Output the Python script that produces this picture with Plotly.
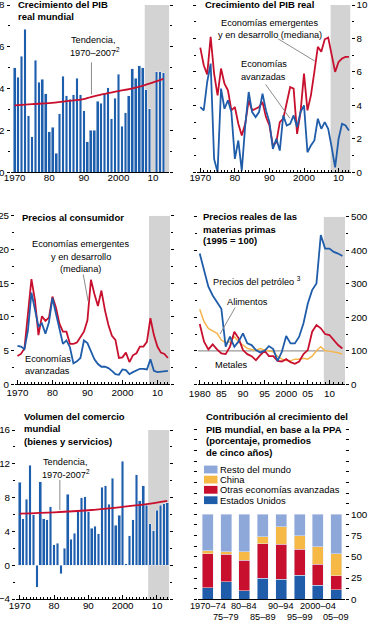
import plotly.graph_objects as go

W, H = 368, 620
FONT = "Liberation Sans, Arial, Helvetica, sans-serif"

# ---------------- data ----------------
YEARS = list(range(1970, 2014))
WORLD_GDP = [5.0, 4.55, 5.55, 6.85, 2.7, 1.7, 5.35, 4.3, 4.45, 3.75,
             1.95, 2.15, 0.9, 2.8, 4.6, 3.65, 3.5, 3.7, 4.5, 3.7,
             2.95, 1.45, 2.0, 2.0, 3.4, 3.3, 3.75, 4.05, 2.55, 3.55,
             4.7, 2.2, 2.85, 3.65, 4.95, 4.5, 5.1, 5.0, 3.95, 3.05,
             None, 4.8, 4.8, 4.75]
GDP_TREND_YEARS = [1970, 1975, 1980, 1985, 1990, 1992, 1995, 2000, 2005, 2010, 2013]
GDP_TREND = [3.2, 3.26, 3.31, 3.4, 3.5, 3.6, 3.72, 3.88, 4.05, 4.3, 4.47]

GDP_EMERGING = [7.45, 6.4, 5.85, 8.1, 5.9, 4.6, 6.2, 5.3, 4.9, 3.7,
                3.9, 2.9, 2.2, 2.9, 4.3, 3.7, 3.8, 3.9, 4.2, 3.3,
                2.8, 1.6, 1.8, 3.0, 3.2, 4.2, 5.1, 5.0, 2.3, 3.6,
                5.9, 3.7, 4.6, 6.0, 7.5, 7.2, 7.95, 8.05, 6.9, 6.0,
                6.6, 6.8, 6.9, 6.9]
GDP_ADVANCED = [3.9, 3.7, 5.4, 6.5, 0.8, 0.0, 5.0, 3.8, 4.3, 3.6,
                0.8, 1.9, 0.1, 2.8, 4.8, 3.6, 3.3, 3.6, 4.7, 3.7,
                3.0, 1.4, 2.0, 1.3, 3.4, 2.8, 2.9, 3.4, 2.7, 3.6,
                4.0, 1.2, 1.6, 1.9, 3.2, 2.6, 3.0, 2.6, 1.5, 0.3,
                2.0, 2.9, 2.8, 2.5]

CPI_EMERGING = [4.2, 4.5, 5.3, 10.0, 15.6, 12.5, 7.3, 10.1, 9.4, 9.9,
                13.0, 11.4, 9.0, 7.8, 7.8, 6.0, 6.0, 6.2, 7.0, 7.8,
                9.5, 15.5, 13.4, 11.6, 13.9, 11.0, 8.8, 7.2, 6.6, 3.9,
                4.0, 4.7, 3.3, 4.3, 4.6, 5.6, 5.6, 6.3, 9.8, 7.3,
                5.6, 4.7, 4.5, 3.9]
CPI_ADVANCED = [5.7, 5.6, 5.2, 8.0, 13.6, 11.2, 8.6, 9.0, 7.5, 9.2,
                12.8, 10.5, 8.3, 6.0, 6.5, 5.5, 3.1, 3.4, 3.9, 6.5,
                6.1, 5.0, 3.7, 3.0, 2.6, 2.6, 2.4, 2.0, 1.5, 1.4,
                2.2, 2.1, 1.5, 1.8, 2.0, 2.3, 2.3, 2.2, 3.7, 2.0,
                1.8, 1.9, 2.0, 2.0]

COMMOD_YEARS = list(range(1980, 2014))
OIL = [390, 340, 291, 265, 246, 225, 112, 142, 112, 128,
       152, 122, 117, 102, 95, 100, 114, 105, 70, 97,
       144, 122, 122, 142, 182, 241, 281, 301, 445, 405,
       405, 395, 390, 383]
FOOD = [224, 187, 167, 160, 152, 132, 124, 127, 142, 127,
        117, 107, 104, 102, 107, 102, 100, 97, 83, 75,
        71, 70, 75, 75, 78, 75, 84, 100, 112, 100,
        99, 97, 94, 90]
METALS = [180, 127, 104, 119, 104, 92, 90, 112, 157, 137,
          102, 90, 84, 72, 87, 100, 84, 84, 70, 68,
          75, 66, 61, 68, 90, 102, 157, 177, 167, 150,
          147, 132, 117, 107]
BASE_INDEX = 100

TRADE = [9.8, 5.5, 7.8, 11.8, 6.0, -2.6, 9.9, 5.5, 5.4, 6.9,
         2.4, 2.6, -1.0, 2.0, 8.4, 3.1, 3.8, 6.4, 8.0, 8.1,
         6.3, 4.4, 4.6, 3.7, 9.2, 9.4, 7.2, 10.3, 4.7, 5.9,
         12.3, 0.2, 3.5, 5.4, 10.7, 7.6, 9.4, 7.1, 4.9, 4.1,
         6.5, 7.1, 7.3, 7.4]
TRADE_TREND_YEARS = [1970, 1980, 1990, 2000, 2007, 2013]
TRADE_TREND = [6.1, 6.25, 6.5, 6.9, 7.22, 7.6]

PERIODS = ["1970–74", "75–79", "80–84", "85–89", "90–94", "95–99", "2000–04", "05–09"]
CONTRIB_US = [13.7, 20.4, 10.2, 24.7, 23.5, 28.2, 16.5, 11.4]
CONTRIB_OTHER_ADV = [40.0, 32.6, 35.7, 40.8, 41.2, 30.6, 24.7, 16.1]
CONTRIB_CHINA = [3.6, 3.0, 10.1, 8.2, 20.8, 16.1, 20.8, 25.8]
CONTRIB_REST = [42.7, 44.0, 44.0, 26.3, 14.5, 25.1, 38.0, 46.7]
CONTRIB_TICKS = [0, 25, 50, 75, 100]

DECADE_TICKS = [1970, 1980, 1990, 2000, 2010]
DECADE_LABELS = ["1970", "80", "90", "2000", "10"]
FIVE_TICKS = [1980, 1985, 1990, 1995, 2000, 2005, 2010]
FIVE_LABELS = ["1980", "85", "90", "95", "2000", "05", "10"]

# ---------------- styles ----------------
RED = "#C8102E"
BLUE = "#1F5DAA"
BAR_BLUE = "#1E5FAD"
FOOD_C = "#F5B54C"
GRAY_SHADE = "#D3D3D3"
LEGEND_COLORS = {"rest": "#8EA8DA", "china": "#F7B946", "other": "#C8102E", "us": "#1F5DAA"}
TICK_SIZE = 9.8
TITLE_SIZE = 9.5
NOTE_SIZE = 9.2


def fx(p):
    return p / W


def fy(p):
    return 1 - p / H


fig = go.Figure()

# Panel 1: world GDP growth bars + trend
fig.add_trace(go.Bar(x=YEARS, y=WORLD_GDP, marker_color=BAR_BLUE, width=0.78,
                     xaxis="x", yaxis="y"))
fig.add_trace(go.Scatter(x=GDP_TREND_YEARS, y=GDP_TREND, mode="lines", line=dict(color=RED, width=1.8, shape="spline"),
                         xaxis="x", yaxis="y"))
# Panel 2: real GDP growth lines
fig.add_trace(go.Scatter(x=YEARS, y=GDP_EMERGING, mode="lines", line=dict(color=RED, width=1.8),
                         xaxis="x2", yaxis="y2"))
fig.add_trace(go.Scatter(x=YEARS, y=GDP_ADVANCED, mode="lines", line=dict(color=BLUE, width=1.8),
                         xaxis="x2", yaxis="y2"))
# Panel 3: consumer prices
fig.add_trace(go.Scatter(x=YEARS, y=CPI_EMERGING, mode="lines", line=dict(color=RED, width=1.8),
                         xaxis="x3", yaxis="y3"))
fig.add_trace(go.Scatter(x=YEARS, y=CPI_ADVANCED, mode="lines", line=dict(color=BLUE, width=1.8),
                         xaxis="x3", yaxis="y3"))
# Panel 4: commodity prices
fig.add_trace(go.Scatter(x=COMMOD_YEARS, y=FOOD, mode="lines", line=dict(color=FOOD_C, width=1.5),
                         xaxis="x4", yaxis="y4"))
fig.add_trace(go.Scatter(x=COMMOD_YEARS, y=METALS, mode="lines", line=dict(color=RED, width=1.8),
                         xaxis="x4", yaxis="y4"))
fig.add_trace(go.Scatter(x=COMMOD_YEARS, y=OIL, mode="lines", line=dict(color=BLUE, width=1.8),
                         xaxis="x4", yaxis="y4"))
# Panel 5: world trade volume
fig.add_trace(go.Bar(x=YEARS, y=TRADE, marker_color=BAR_BLUE, width=0.76, xaxis="x5", yaxis="y5"))
fig.add_trace(go.Scatter(x=TRADE_TREND_YEARS, y=TRADE_TREND, mode="lines",
                         line=dict(color=RED, width=1.8, shape="spline"), xaxis="x5", yaxis="y5"))
# Panel 6: stacked contributions
idx = list(range(len(PERIODS)))
for vals, key in [(CONTRIB_US, "us"), (CONTRIB_OTHER_ADV, "other"), (CONTRIB_CHINA, "china"), (CONTRIB_REST, "rest")]:
    fig.add_trace(go.Bar(x=idx, y=vals, marker_color=LEGEND_COLORS[key], width=0.6, xaxis="x6", yaxis="y6"))

# ---------------- axes ----------------
tickfont = dict(family=FONT, size=TICK_SIZE, color="black")


def xaxis(dom, rng, anchor, tickvals=None, ticktext=None, inside=True, major_len=4, standoff=0):
    d = dict(domain=[fx(dom[0]), fx(dom[1])], range=rng, anchor=anchor, showgrid=False, zeroline=False,
             showline=True, linecolor="black", linewidth=1, tickfont=tickfont, tickangle=0, fixedrange=True,
             automargin=False, ticklabelstandoff=standoff, ticklabeloverflow="allow")
    if tickvals is not None:
        d.update(tickmode="array", tickvals=tickvals, ticktext=ticktext)
    else:
        d.update(showticklabels=False)
    if inside:
        d.update(ticks="inside", ticklen=major_len, tickcolor="black", tickwidth=1,
                 minor=dict(dtick=1, tick0=1970, ticks="inside", ticklen=2, tickcolor="black", tickwidth=1))
    else:
        d.update(ticks="")
    return d


def yaxis(dom, rng, anchor, side, dtick, minor_dtick, tickvals=None, minor_len=2):
    d = dict(domain=[fy(dom[1]), fy(dom[0])], range=rng, anchor=anchor, side=side, showgrid=False,
             zeroline=False, showline=False, ticks="outside", ticklen=3, tickcolor="black", tickwidth=1,
             mirror="ticks", tickfont=tickfont, fixedrange=True, automargin=False, ticklabeloverflow="allow")
    if tickvals is not None:
        d.update(tickmode="array", tickvals=tickvals)
    else:
        d.update(tick0=0, dtick=dtick)
    if minor_dtick:
        d.update(minor=dict(tick0=0, dtick=minor_dtick, ticks="outside", ticklen=minor_len,
                            tickcolor="black", tickwidth=1))
    return d


P1 = dict(x=(10.5, 169.3), y=(5, 172.3), xr=[1968.8, 2014.7])
P2 = dict(x=(197, 350.5), y=(5, 172.3), xr=[1969.05, 2013.45])
P3 = dict(x=(15, 170), y=(215.7, 384.3), xr=[1969.3, 2013.6])
P4 = dict(x=(198, 345), y=(216.7, 384.3), xr=[1979.6, 2013.6])
P5 = dict(x=(16, 169.3), y=(430, 599), xr=[1968.92, 2013.6])
P6 = dict(x=(198, 345), y=(429.3, 599.3), xr=[-0.534, 7.48])

fig.update_layout(
    xaxis=xaxis(P1["x"], P1["xr"], "y", DECADE_TICKS, DECADE_LABELS, inside=False, standoff=-4),
    yaxis=yaxis(P1["y"], [0, 8], "x", "left", 2, 1),
    xaxis2=xaxis(P2["x"], P2["xr"], "y2", DECADE_TICKS, DECADE_LABELS, standoff=-4),
    yaxis2=yaxis(P2["y"], [0, 10], "x2", "right", 2, 1),
    xaxis3=xaxis(P3["x"], P3["xr"], "y3", DECADE_TICKS, DECADE_LABELS, standoff=-1),
    yaxis3=yaxis(P3["y"], [0, 25], "x3", "left", 5, 2.5),
    xaxis4=xaxis(P4["x"], P4["xr"], "y4", FIVE_TICKS, FIVE_LABELS),
    yaxis4=yaxis(P4["y"], [0, 500], "x4", "right", 100, 50),
    xaxis5=xaxis(P5["x"], P5["xr"], "y5", DECADE_TICKS, DECADE_LABELS, standoff=-3),
    yaxis5=yaxis(P5["y"], [-4, 16], "x5", "left", 4, 2),
    xaxis6=xaxis(P6["x"], P6["xr"], "y6", None, None, inside=False),
    yaxis6=yaxis(P6["y"], [0, 200], "x6", "right", None, 12.5, CONTRIB_TICKS, minor_len=3),
)

# ---------------- shading (projections) ----------------
shapes = []
for xa, ya, x0, P, yr in [("x", "y", 2007.6, P1, [0, 8]), ("x2", "y2", 2007.7, P2, [0, 10]),
                          ("x3", "y3", 2007.6, P3, [0, 25]), ("x4", "y4", 2008.7, P4, [0, 500]),
                          ("x5", "y5", 2007.45, P5, [-4, 16])]:
    shapes.append(dict(type="rect", xref=xa, yref=ya, x0=x0, x1=P["xr"][1], y0=yr[0], y1=yr[1],
                       fillcolor=GRAY_SHADE, line=dict(width=0), layer="below"))
# reference line at base index in commodity panel
shapes.append(dict(type="line", xref="x4 domain", yref="y4", x0=0, x1=1, y0=BASE_INDEX, y1=BASE_INDEX,
                   line=dict(color="#9A9A9A", width=1.2), layer="below"))
# leader lines
LEAD = "#8C8C8C"
for xa, ya, x0, y0, x1, y1 in [("x", "y", 1992.2, 5.26, 1992.2, 3.72),
                                ("x2", "y2", 1992.5, 7.98, 2003.1, 6.65),
                                ("x2", "y2", 1988.9, 5.25, 1995.9, 3.23),
                                ("x3", "y3", 1988.8, 16.3, 1990.2, 12.3),
                                ("x4", "y4", 1988.2, 229, 1984.7, 150),
                                ("x5", "y5", 1981.7, 10.1, 1981.7, 6.5)]:
    shapes.append(dict(type="line", xref=xa, yref=ya, x0=x0, y0=y0, x1=x1, y1=y1,
                       line=dict(color=LEAD, width=1)))

# legend squares for panel 6
for key, yc in [("rest", 469.5), ("china", 479.6), ("other", 489.8), ("us", 500.2)]:
    shapes.append(dict(type="rect", xref="paper", yref="paper", x0=fx(204), x1=fx(217.5),
                       y0=fy(yc + 3.9), y1=fy(yc - 3.9), fillcolor=LEGEND_COLORS[key], line=dict(width=0)))

# ---------------- texts ----------------
ann = []


def txt(s, xp, yp, size=NOTE_SIZE, anchor="left", bold=False):
    ann.append(dict(text=("<b>%s</b>" % s) if bold else s, x=fx(xp), y=fy(yp), xref="paper", yref="paper",
                    xanchor=anchor, yanchor="middle", showarrow=False, borderpad=0,
                    font=dict(family=FONT, size=size, color="black")))


TS = TITLE_SIZE
# panel 1
txt("Crecimiento del PIB", 17.3, 5.0, TS, bold=True)
txt("real mundial", 17.3, 16.7, TS, bold=True)
txt("Tendencia,", 70, 40.5)
txt("1970–2007<sup>2</sup>", 69.3, 51.7)
# panel 2
txt("Crecimiento del PIB real", 204, 5.0, TS, bold=True)
txt("Economías emergentes", 269, 22.8, anchor="center")
txt("y en desarrollo (mediana)", 269.8, 34.5, anchor="center")
txt("Economías", 264, 64.3, anchor="center")
txt("avanzadas", 263.5, 77.0, anchor="center")
# panel 3
txt("Precios al consumidor", 21, 217.5, TS, bold=True)
txt("Economías emergentes", 80.3, 243.7, anchor="center")
txt("y en desarrollo", 80.7, 257.0, anchor="center")
txt("(mediana)", 80.3, 269.0, anchor="center")
txt("Economías", 48.3, 358.7, anchor="center")
txt("avanzadas", 47.5, 370.5, anchor="center")
# panel 4
txt("Precios reales de las", 202.3, 216.7, TS, bold=True)
txt("materias primas", 202.3, 229.0, TS, bold=True)
txt("(1995 = 100)", 202.3, 240.7, TS, bold=True)
txt("Precios del petróleo <sup>3</sup>", 212.3, 280.5)
txt("Alimentos", 247.3, 301.7, anchor="center")
txt("Metales", 231.3, 365.0, anchor="center")
# panel 5
txt("Volumen del comercio", 22.7, 416.7, TS, bold=True)
txt("mundial", 22.7, 428.7, TS, bold=True)
txt("(bienes y servicios)", 22.7, 441.3, TS, bold=True)
txt("Tendencia,", 41.7, 462.3)
txt("1970-2007<sup>2</sup>", 40.7, 474.3)
# panel 6
txt("Contribución al crecimiento del", 204.7, 416.0, TS, bold=True)
txt("PIB mundial, en base a la PPA", 204.7, 429.3, TS, bold=True)
txt("(porcentaje, promedios", 204.7, 440.7, TS, bold=True)
txt("de cinco años)", 204.7, 452.0, TS, bold=True)
for name, yc in [("Resto del mundo", 469.5), ("China", 479.6), ("Otras economías avanzadas", 489.8),
                 ("Estados Unidos", 500.2)]:
    txt(name, 219.3, yc, 9.4)
# period labels on two rows
for i, lab in enumerate(PERIODS):
    ann.append(dict(text=lab, x=i, xref="x6", y=fy(605.7 if i % 2 == 0 else 616.5), yref="paper",
                    xanchor="center", yanchor="middle", showarrow=False, borderpad=0,
                    font=dict(family=FONT, size=9.2, color="black")))

fig.update_layout(
    width=W, height=H, margin=dict(l=0, r=0, t=0, b=0, pad=0, autoexpand=False),
    paper_bgcolor="white", plot_bgcolor="rgba(0,0,0,0)",
    showlegend=False, barmode="stack",
    font=dict(family=FONT, size=TICK_SIZE, color="black"),
    shapes=shapes, annotations=ann,
)

fig.write_html("out.html", config={"displayModeBar": False, "staticPlot": True},
               post_script="document.body.style.margin='0px';document.body.style.overflow='hidden';")
